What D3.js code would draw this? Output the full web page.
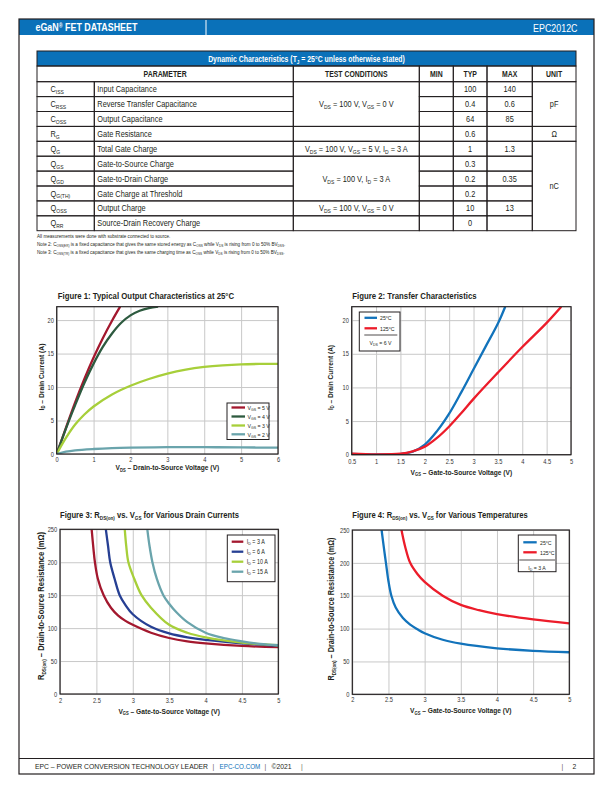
<!DOCTYPE html>
<html><head><meta charset="utf-8">
<script src="https://cdn.jsdelivr.net/npm/d3@7/dist/d3.min.js"></script>
<style>
html,body{margin:0;padding:0;background:#fff;}
svg{display:block;}
</style></head>
<body>
<script>
// ---------------- DATA ----------------
const headerLeft = "eGaN^{®} FET DATASHEET";
const headerRight = "EPC2012C";
const tableTitle = "Dynamic Characteristics (T_{J} = 25°C unless otherwise stated)";
const tableHeaders = ["PARAMETER", "TEST CONDITIONS", "MIN", "TYP", "MAX", "UNIT"];
const paramSymbols = ["C_{ISS}", "C_{RSS}", "C_{OSS}", "R_{G}", "Q_{G}", "Q_{GS}", "Q_{GD}", "Q_{G(TH)}", "Q_{OSS}", "Q_{RR}"];
const paramNames = ["Input Capacitance", "Reverse Transfer Capacitance", "Output Capacitance", "Gate Resistance",
  "Total Gate Charge", "Gate-to-Source Charge", "Gate-to-Drain Charge", "Gate Charge at Threshold", "Output Charge", "Source-Drain Recovery Charge"];
const minValues = ["", "", "", "", "", "", "", "", "", ""];
const typValues = ["100", "0.4", "64", "0.6", "1", "0.3", "0.2", "0.2", "10", "0"];
const maxValues = ["140", "0.6", "85", "", "1.3", "", "0.35", "", "13", ""];
const conditionGroups = [
  {start: 0, span: 3, text: "V_{DS} = 100 V, V_{GS} = 0 V"},
  {start: 3, span: 1, text: ""},
  {start: 4, span: 1, text: "V_{DS} = 100 V, V_{GS} = 5 V, I_{D} = 3 A"},
  {start: 5, span: 3, text: "V_{DS} = 100 V, I_{D} = 3 A"},
  {start: 8, span: 1, text: "V_{DS} = 100 V, V_{GS} = 0 V"},
  {start: 9, span: 1, text: ""}
];
const unitGroups = [
  {start: 0, span: 3, text: "pF"},
  {start: 3, span: 1, text: "Ω"},
  {start: 4, span: 6, text: "nC"}
];
const tableNotes = [
  "All measurements were done with substrate connected to source.",
  "Note 2: C_{OSS(ER)} is a fixed capacitance that gives the same stored energy as C_{OSS} while V_{DS} is rising from 0 to 50% BV_{DSS}.",
  "Note 3: C_{OSS(TR)} is a fixed capacitance that gives the same charging time as C_{OSS} while V_{DS} is rising from 0 to 50% BV_{DSS}."
];
const footerText = "EPC – POWER CONVERSION TECHNOLOGY LEADER";
const footerLink = "EPC-CO.COM";
const footerYear = "©2021";
const pageNumber = "2";

// Figure 1: Output characteristics (VDS, ID)
const fig1Labels = ["V_{GS} = 5 V", "V_{GS} = 4 V", "V_{GS} = 3 V", "V_{GS} = 2 V"];
const fig1Vgs5 = [[0,0],[0.25,3.9],[0.5,7.7],[0.75,11.2],[1,14.4],[1.25,17.3],[1.5,19.9],[1.72,22]];
const fig1Vgs4 = [[0,0],[0.25,3.8],[0.5,7.3],[0.75,10.6],[1,13.5],[1.25,16],[1.5,18],[1.75,19.6],[2,20.7],[2.25,21.4],[2.5,21.8],[2.75,22]];
const fig1Vgs3 = [[0,0],[0.25,2.4],[0.5,4.4],[0.75,5.9],[1,7.1],[1.5,8.9],[2,10.2],[2.5,11.2],[3,12],[3.5,12.6],[4,13],[4.5,13.25],[5,13.4],[5.5,13.45],[6,13.45]];
const fig1Vgs2 = [[0,0],[0.25,0.35],[0.5,0.55],[1,0.75],[1.5,0.88],[2,0.95],[3,1.02],[4,1.02],[5,0.98],[6,0.95]];
const fig1XTicks = [0,1,2,3,4,5,6];
const fig1YTicks = [0,5,10,15,20];

// Figure 2: Transfer characteristics (VGS, ID)
const fig2Labels = ["25°C", "125°C"];
const fig2T25 = [[0.5,0.12],[1,0.05],[1.5,0.1],[1.75,0.45],[2,1.5],[2.25,3.5],[2.5,6.1],[2.75,9.3],[3,12.7],[3.25,16.1],[3.5,19.5],[3.65,22]];
const fig2T125 = [[0.5,0.15],[1,0.05],[1.5,0.15],[1.75,0.5],[2,1.2],[2.25,2.5],[2.5,4.2],[2.75,6.2],[3,8.3],[3.5,12.2],[4,16],[4.5,19.6],[4.8,22]];
const fig2XTicks = [0.5,1,1.5,2,2.5,3,3.5,4,4.5,5];
const fig2YTicks = [0,5,10,15,20];

// Figure 3: RDS(on) vs VGS for drain currents
const fig3Labels = ["I_{D} =  3 A", "I_{D} =  6 A", "I_{D} =  10 A", "I_{D} = 15 A"];
const fig3Id3 = [[2.435,250],[2.46,220],[2.48,200],[2.52,175],[2.6,150],[2.7,131],[2.8,119],[2.9,111],[3,105],[3.25,93],[3.5,85],[3.75,80],[4,77],[4.5,73],[5,71]];
const fig3Id6 = [[2.63,250],[2.66,225],[2.69,200],[2.75,175],[2.82,150],[2.9,135],[3,121],[3.25,102],[3.5,92],[3.75,86],[4,82],[4.5,77],[5,73]];
const fig3Id10 = [[2.89,250],[2.91,225],[2.94,200],[3.02,175],[3.12,150],[3.25,131],[3.5,105],[3.75,93],[4,86],[4.5,78],[5,74]];
const fig3Id15 = [[3.2,250],[3.23,225],[3.27,200],[3.33,175],[3.42,150],[3.5,137],[3.6,124],[3.75,109],[4,93],[4.25,85],[4.5,80],[4.75,76],[5,74]];
const fig34XTicks = [2,2.5,3,3.5,4,4.5,5];
const fig34YTicks = [0,50,100,150,200,250];

// Figure 4: RDS(on) vs VGS for temperatures
const fig4Labels = ["25°C", "125°C"];
const fig4T25 = [[2.405,250],[2.44,220],[2.465,200],[2.5,172],[2.54,150],[2.6,132],[2.7,116],[2.8,106],[2.9,99],[3,93],[3.25,83],[3.5,77],[4,70],[4.5,66],[5,64]];
const fig4T125 = [[2.68,250],[2.73,225],[2.8,200],[2.9,183],[3,171],[3.25,150],[3.5,136],[3.75,128],[4,122],[4.5,114],[5,108]];

// ---------------- STYLE ----------------
const FONT = "'Liberation Sans', Arial, sans-serif";
const SX = 0.84; // horizontal squeeze to emulate a condensed face
const INK = "#231f20";
const BLUE = "#0a71b9";
const C = {darkred:"#a3182e", darkgreen:"#2d5a3f", lime:"#a7cf3a", teal:"#6aa4ac", navy:"#263f93", blue:"#1273bb", red:"#ec1c2a"};

const svg = d3.select("body").append("svg").attr("width",612).attr("height",792)
  .style("font-family", FONT);

// rich text with _{sub} and ^{sup} syntax
function rich(sel, str, fs, subScale) {
  const ss = subScale || 0.68;
  const parts = str.split(/([_^]\{[^}]*\})/).filter(p => p.length);
  let shift = 0;
  parts.forEach(p => {
    if (p.startsWith("_{") || p.startsWith("^{")) {
      const off = p[0] === "_" ? fs*0.22 : -fs*0.3;
      sel.append("tspan").attr("font-size", fs*ss).attr("dy", off - shift).text(p.slice(2,-1));
      shift = off;
    } else {
      sel.append("tspan").attr("font-size", fs).attr("dy", -shift).text(p);
      shift = 0;
    }
  });
  return sel;
}
function txt(x, y, str, fs, opts={}) {
  const sx = opts.sx || SX;
  const g = svg.append("g").attr("transform",
    `translate(${x},${y})` + (opts.rotate ? ` rotate(${opts.rotate})` : "") + ` scale(${sx},1)`);
  const t = g.append("text").attr("x", 0).attr("y", 0)
    .attr("text-anchor", opts.anchor || "start")
    .attr("font-weight", opts.bold ? "bold" : "normal")
    .attr("fill", opts.fill || INK)
    .attr("font-size", fs);
  rich(t, str, fs, opts.subScale);
  return t;
}

// ---------------- PAGE FRAME ----------------
const PX0 = 19, PX1 = 594, PY0 = 19, PY1 = 774;
svg.append("rect").attr("x",PX0).attr("y",PY0).attr("width",PX1-PX0).attr("height",16).attr("fill",BLUE);
svg.append("line").attr("x1",206).attr("x2",206).attr("y1",PY0+1).attr("y2",PY0+16).attr("stroke","#fff").attr("stroke-width",1);
txt(35.5, 31, headerLeft, 10.6, {bold:true, fill:"#fff", subScale:0.6});
txt(577.5, 31.5, headerRight, 10.6, {anchor:"end", fill:"#fff"});
svg.append("rect").attr("x",PX0).attr("y",PY0).attr("width",PX1-PX0).attr("height",PY1-PY0)
  .attr("fill","none").attr("stroke",INK).attr("stroke-width",1.2);
svg.append("line").attr("x1",PX0).attr("x2",PX1).attr("y1",758.5).attr("y2",758.5).attr("stroke",INK).attr("stroke-width",1.2);

// footer
txt(35, 769, footerText, 8.1);
txt(213.5, 769, "|", 8.1, {anchor:"middle", fill:"#666"});
txt(219.5, 769, footerLink, 7.5, {fill:BLUE});
txt(265.5, 769, "|", 8.1, {anchor:"middle", fill:"#666"});
txt(271.5, 769, footerYear, 8.1);
txt(302, 769, "|", 8.1, {anchor:"middle", fill:"#666"});
txt(562.5, 769, "|", 8.1, {anchor:"middle", fill:"#666"});
txt(574.5, 769, pageNumber, 8.1, {anchor:"middle"});

// ---------------- TABLE ----------------
const colX = [37, 94.3, 293.3, 419.3, 453.3, 487, 532.3, 576];
const tTop = 51, titleH = 15, headH = 15.7, rowH = 14.9;
const rowTop = tTop + titleH + headH;
function cell(x0, x1, y0, y1) {
  svg.append("rect").attr("x",x0).attr("y",y0).attr("width",x1-x0).attr("height",y1-y0)
    .attr("fill","none").attr("stroke",INK).attr("stroke-width",1);
}
svg.append("rect").attr("x",colX[0]).attr("y",tTop).attr("width",colX[7]-colX[0]).attr("height",titleH)
  .attr("fill",BLUE).attr("stroke",INK).attr("stroke-width",1);
txt((colX[0]+colX[7])/2, tTop+10.8, tableTitle, 8.2, {anchor:"middle", bold:true, fill:"#fff"});
const hy0 = tTop+titleH, hy1 = rowTop;
cell(colX[0], colX[2], hy0, hy1);
[[2,3],[3,4],[4,5],[5,6],[6,7]].forEach(([a,b]) => cell(colX[a], colX[b], hy0, hy1));
const headerCenters = [(colX[0]+colX[2])/2, (colX[2]+colX[3])/2, (colX[3]+colX[4])/2, (colX[4]+colX[5])/2, (colX[5]+colX[6])/2, (colX[6]+colX[7])/2];
tableHeaders.forEach((h,i) => txt(headerCenters[i], hy0+11, h, 8.2, {anchor:"middle", bold:true}));
paramSymbols.forEach((s,i) => {
  const y0 = rowTop + i*rowH, y1 = y0 + rowH, yb = y0 + rowH/2 + 3.1;
  cell(colX[0], colX[1], y0, y1);
  cell(colX[1], colX[2], y0, y1);
  cell(colX[3], colX[4], y0, y1);
  cell(colX[4], colX[5], y0, y1);
  cell(colX[5], colX[6], y0, y1);
  txt(colX[0]+13.5, yb, s, 8.8);
  txt(colX[1]+3, yb, paramNames[i], 8.8);
  txt((colX[3]+colX[4])/2, yb, minValues[i], 8.8, {anchor:"middle"});
  txt((colX[4]+colX[5])/2, yb, typValues[i], 8.8, {anchor:"middle"});
  txt((colX[5]+colX[6])/2, yb, maxValues[i], 8.8, {anchor:"middle"});
});
conditionGroups.forEach(g => {
  const y0 = rowTop + g.start*rowH, y1 = y0 + g.span*rowH;
  cell(colX[2], colX[3], y0, y1);
  txt((colX[2]+colX[3])/2, (y0+y1)/2 + 3.1, g.text, 8.8, {anchor:"middle"});
});
unitGroups.forEach(g => {
  const y0 = rowTop + g.start*rowH, y1 = y0 + g.span*rowH;
  cell(colX[6], colX[7], y0, y1);
  txt((colX[6]+colX[7])/2, (y0+y1)/2 + 3.1, g.text, 8.8, {anchor:"middle"});
});
const tBottom = rowTop + 10*rowH;
tableNotes.forEach((n,i) => txt(37, tBottom + 7 + i*8, n, 5.5));

// ---------------- CHARTS ----------------
function chart(cfg) {
  const x = d3.scaleLinear().domain(cfg.xdom).range([cfg.x0, cfg.x1]);
  const y = d3.scaleLinear().domain(cfg.ydom).range([cfg.y1, cfg.y0]);
  const g = svg.append("g");
  g.append("g").attr("transform",`translate(0,${cfg.y1})`)
    .call(d3.axisBottom(x).tickValues(cfg.xticks).tickSize(-(cfg.y1-cfg.y0)).tickFormat(""))
    .call(a => { a.select(".domain").remove(); a.selectAll("line").attr("stroke","#c8c8c8").attr("stroke-width",1); });
  g.append("g").attr("transform",`translate(${cfg.x0},0)`)
    .call(d3.axisLeft(y).tickValues(cfg.yticks).tickSize(-(cfg.x1-cfg.x0)).tickFormat(""))
    .call(a => { a.select(".domain").remove(); a.selectAll("line").attr("stroke","#c8c8c8").attr("stroke-width",1); });
  g.append("g").attr("transform",`translate(0,${cfg.y1})`)
    .call(d3.axisBottom(x).tickValues(cfg.xticks).tickSize(0).tickPadding(cfg.xpad).tickFormat(d3.format("")))
    .call(a => { a.select(".domain").remove();
      a.selectAll("text").attr("font-family",FONT).attr("font-size",6.8).attr("fill","#333").attr("transform",`scale(${SX},1)`); });
  g.append("g").attr("transform",`translate(${cfg.x0},0)`)
    .call(d3.axisLeft(y).tickValues(cfg.yticks).tickSize(0).tickPadding(2.8/SX).tickFormat(d3.format("")))
    .call(a => { a.select(".domain").remove();
      a.selectAll("text").attr("font-family",FONT).attr("font-size",6.8).attr("fill","#333").attr("transform",`scale(${SX},1)`); });
  const cid = "clip" + cfg.id;
  svg.append("clipPath").attr("id",cid).append("rect")
    .attr("x",cfg.x0).attr("y",cfg.y0).attr("width",cfg.x1-cfg.x0).attr("height",cfg.y1-cfg.y0);
  const line = d3.line().x(d => x(d[0])).y(d => y(d[1])).curve(d3.curveCatmullRom.alpha(0.5));
  const lg = g.append("g").attr("clip-path",`url(#${cid})`);
  cfg.series.forEach(s => {
    lg.append("path").datum(s.data).attr("d", line).attr("fill","none")
      .attr("stroke", s.color).attr("stroke-width", 2.3);
  });
  g.append("rect").attr("x",cfg.x0).attr("y",cfg.y0).attr("width",cfg.x1-cfg.x0).attr("height",cfg.y1-cfg.y0)
    .attr("fill","none").attr("stroke",INK).attr("stroke-width",1.2);
  txt(cfg.x0 + (cfg.titleDx||0), cfg.titleY, cfg.title, cfg.titleFs, {bold:true, subScale:0.6});
  txt((cfg.x0+cfg.x1)/2, cfg.xlabY, cfg.xlabel, 7.9, {bold:true, anchor:"middle", subScale:0.62});
  txt(cfg.ylabX, cfg.ylabY, cfg.ylabel, cfg.ylabFs, {bold:true, anchor:"middle", rotate:-90, subScale:0.62});
  const L = cfg.legend;
  g.append("rect").attr("x",L.x0).attr("y",L.y0).attr("width",L.x1-L.x0).attr("height",L.y1-L.y0)
    .attr("fill","#fff").attr("stroke",INK).attr("stroke-width",1);
  cfg.series.forEach((s,i) => {
    const ly = L.rows[i];
    svg.append("line").attr("x1",L.lx0).attr("x2",L.lx1).attr("y1",ly).attr("y2",ly)
      .attr("stroke",s.color).attr("stroke-width",2.3);
    txt(L.tx, ly + 2.2, s.label, L.fs);
  });
  if (L.sep) {
    svg.append("line").attr("x1",L.sep.x0).attr("x2",L.sep.x1).attr("y1",L.sep.y).attr("y2",L.sep.y)
      .attr("stroke",INK).attr("stroke-width",0.8);
    txt(L.note.x, L.note.y, L.note.text, L.fs, {anchor:"middle"});
  }
}

chart({id:1, x0:56.7, x1:278, y0:306.7, y1:454, xdom:[0,6], ydom:[0,22], xticks:fig1XTicks, yticks:fig1YTicks, xpad:3,
  title:"Figure 1: Typical Output Characteristics at 25°C", titleY:298.5, titleDx:1, titleFs:9.3,
  xlabel:"V_{DS} – Drain-to-Source Voltage (V)", xlabY:470,
  ylabel:"I_{D} – Drain Current (A)", ylabX:43.5, ylabY:377, ylabFs:8,
  series:[
    {data:fig1Vgs5, color:C.darkred, label:fig1Labels[0]},
    {data:fig1Vgs4, color:C.darkgreen, label:fig1Labels[1]},
    {data:fig1Vgs3, color:C.lime, label:fig1Labels[2]},
    {data:fig1Vgs2, color:C.teal, label:fig1Labels[3]}],
  legend:{x0:227, x1:269, y0:403, y1:439.5, lx0:231.5, lx1:245, tx:247.5, fs:6.2, rows:[407.5,416.5,425.5,434.3]}
});

chart({id:2, x0:351.7, x1:571, y0:306.7, y1:454.7, xdom:[0.5,5], ydom:[0,22], xticks:fig2XTicks, yticks:fig2YTicks, xpad:4,
  title:"Figure 2: Transfer Characteristics", titleY:298.5, titleDx:0.5, titleFs:9.3,
  xlabel:"V_{GS} – Gate-to-Source Voltage (V)", xlabY:474.5,
  ylabel:"I_{D} – Drain Current (A)", ylabX:332.5, ylabY:377.5, ylabFs:7.8,
  series:[
    {data:fig2T25, color:C.blue, label:fig2Labels[0]},
    {data:fig2T125, color:C.red, label:fig2Labels[1]}],
  legend:{x0:359.3, x1:400, y0:312, y1:351, lx0:364.5, lx1:377, tx:380, fs:6.2, rows:[317.8,328.3],
    sep:{x0:364.3, x1:397.3, y:335}, note:{x:380.5, y:344.5, text:"V_{DS} = 6 V"}}
});

chart({id:3, x0:60, x1:278.3, y0:529.3, y1:694, xdom:[2,5], ydom:[0,250], xticks:fig34XTicks, yticks:fig34YTicks, xpad:4.5,
  title:"Figure 3: R_{DS(on)} vs. V_{GS}  for Various Drain Currents", titleY:518, titleDx:0, titleFs:9.1,
  xlabel:"V_{GS} – Gate-to-Source Voltage (V)", xlabY:713.5,
  ylabel:"R_{DS(on)} – Drain-to-Source Resistance (mΩ)", ylabX:44, ylabY:606, ylabFs:9,
  series:[
    {data:fig3Id3, color:C.darkred, label:fig3Labels[0]},
    {data:fig3Id6, color:C.navy, label:fig3Labels[1]},
    {data:fig3Id10, color:C.lime, label:fig3Labels[2]},
    {data:fig3Id15, color:C.teal, label:fig3Labels[3]}],
  legend:{x0:227.3, x1:275, y0:535, y1:581.7, lx0:231.7, lx1:243.3, tx:246.7, fs:6.4, rows:[541.7,551.7,561.7,571.7]}
});

chart({id:4, x0:352.3, x1:569.3, y0:530, y1:694.3, xdom:[2,5], ydom:[0,250], xticks:fig34XTicks, yticks:fig34YTicks, xpad:3.2,
  title:"Figure 4: R_{DS(on)} vs. V_{GS} for Various Temperatures", titleY:518, titleDx:0, titleFs:9.1,
  xlabel:"V_{GS} – Gate-to-Source Voltage (V)", xlabY:713,
  ylabel:"R_{DS(on)} – Drain-to-Source Resistance (mΩ)", ylabX:334, ylabY:609, ylabFs:8.7,
  series:[
    {data:fig4T25, color:C.blue, label:fig4Labels[0]},
    {data:fig4T125, color:C.red, label:fig4Labels[1]}],
  legend:{x0:518.3, x1:556, y0:535, y1:571.7, lx0:523.3, lx1:536.7, tx:540, fs:6.2, rows:[542.3,552.3],
    sep:{x0:519.3, x1:555, y:560}, note:{x:537, y:569.5, text:"I_{D} = 3 A"}}
});
</script>
</body></html>
